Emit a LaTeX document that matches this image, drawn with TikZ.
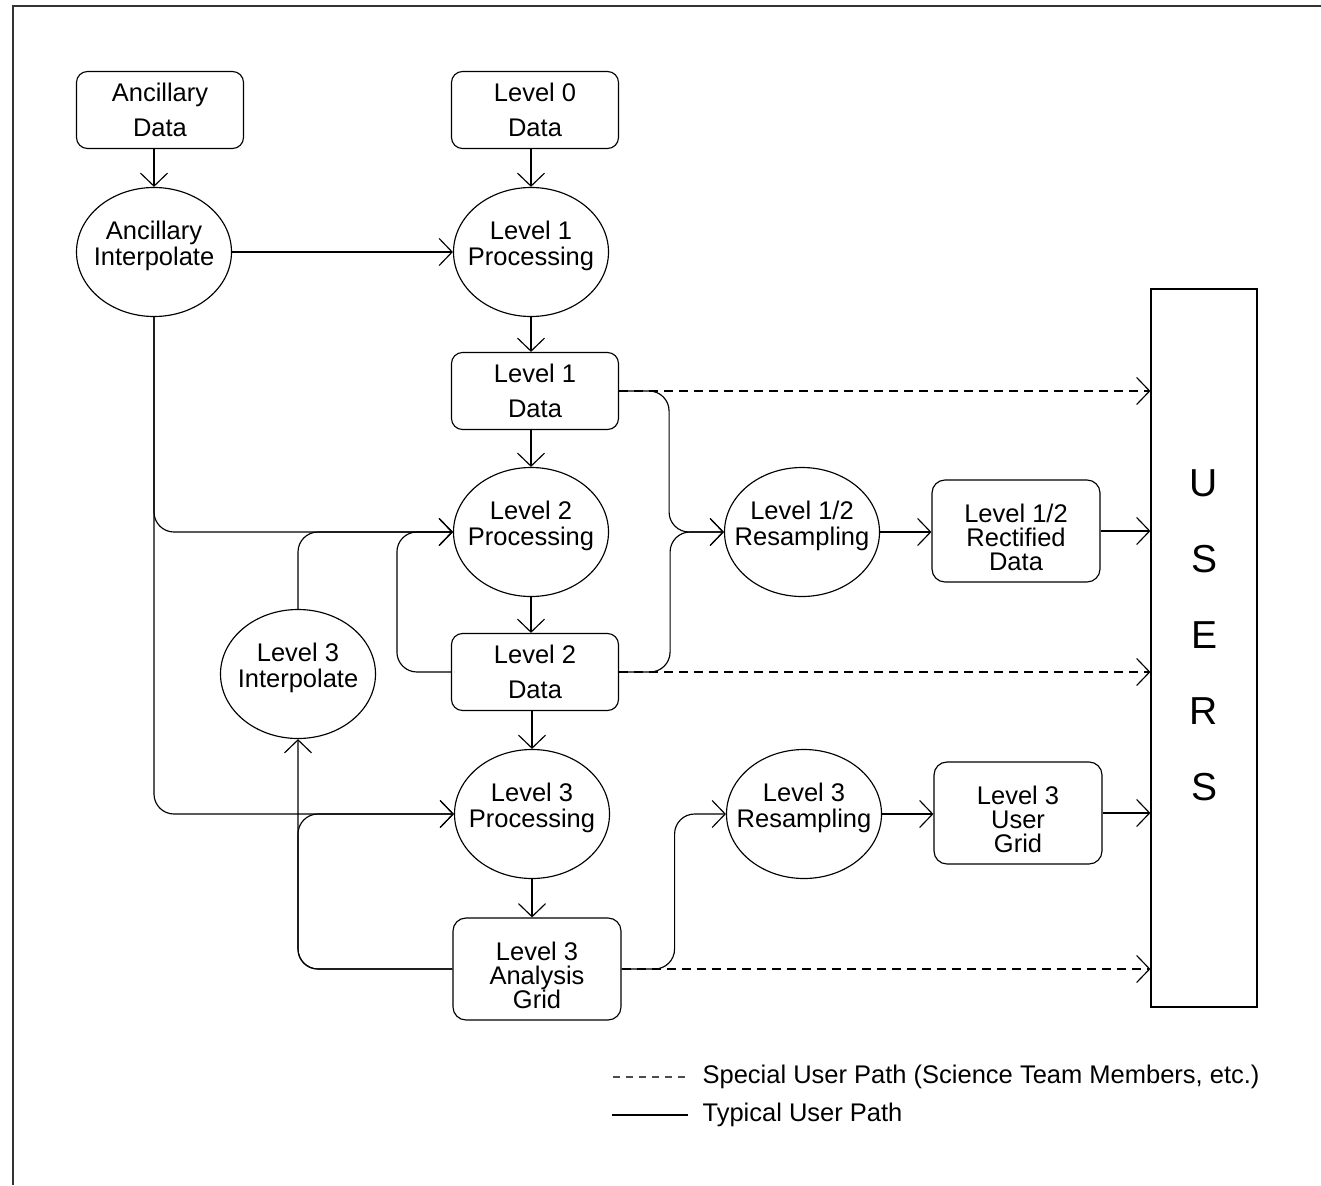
\documentclass[tikz,border=0pt]{standalone}
\usepackage{fontspec}
\setmainfont{Liberation Sans}
\usetikzlibrary{arrows.meta,shapes.geometric}

\begin{document}
\begin{tikzpicture}[x=1pt,y=-1pt,line width=1.15pt,
  databox/.style={draw,rounded corners=11pt,minimum width=167pt,minimum height=77pt,
    inner sep=0pt,align=center,font=\fontsize{25.5}{35}\selectfont},
  gridbox/.style={draw,rounded corners=13pt,minimum width=168pt,minimum height=102pt,
    inner sep=0pt,align=center,text height=78.6pt,text depth=0pt,
    font=\fontsize{25.5}{24}\selectfont},
  procbubble/.style={draw,ellipse,minimum width=155pt,minimum height=129pt,
    inner ysep=0pt,inner xsep=-14pt,align=center,text depth=18pt,
    font=\fontsize{25.5}{26}\selectfont},
  usersbox/.style={draw,minimum width=106pt,minimum height=718pt,inner sep=0pt,
    align=center,text depth=26pt,font=\fontsize{39}{76}\selectfont},
  flow/.style={-{Straight Barb[length=13pt,width=27pt]},rounded corners=20pt},
  special/.style={flow,dash pattern=on 9pt off 6pt},
  legtext/.style={anchor=west,inner sep=0pt,font=\fontsize{25.5}{30}\selectfont},
]
\useasboundingbox (0,0) rectangle (1321,1185);
% page frame (cut off at right and bottom)
\draw[black!80,line width=1.5pt] (13,1185) -- (13,6) -- (1321,6);

% inputs
\node[databox] (ancdata) at (160,110) {Ancillary\\Data};
\node[databox] (lzero) at (535,110) {Level 0\\Data};

% main chain
\node[procbubble] (ancinterp) at (154,252) {Ancillary\\Interpolate};
\node[procbubble] (lonepro) at (531,252) {Level 1\\Processing};
\node[databox] (lonedata) at (535,391) {Level 1\\Data};
\node[procbubble] (ltwopro) at (531,532) {Level 2\\Processing};
\node[databox] (ltwodata) at (535,672) {Level 2\\Data};
\node[procbubble] (lthreeint) at (298,674) {Level 3\\Interpolate};
\node[procbubble] (lthreepro) at (532,814) {Level 3\\Processing};
\node[gridbox] (lthreegrid) at (537,969) {Level 3\\Analysis\\Grid};

% resampling
\node[procbubble] (resampa) at (802,532) {Level 1/2\\Resampling};
\node[gridbox] (rectdata) at (1016,531) {Level 1/2\\Rectified\\Data};
\node[procbubble] (resampb) at (804,814) {Level 3\\Resampling};
\node[gridbox] (usergrid) at (1018,813) {Level 3\\User\\Grid};
\node[usersbox] (users) at (1204,648) {U\\S\\E\\R\\S};

% typical user path
\draw[flow] (ancinterp.north |- ancdata.south) -- (ancinterp.north);
\draw[flow] (lonepro.north |- lzero.south) -- (lonepro.north);
\draw[flow] (ancinterp.east) -- (lonepro.west);
\draw[flow] (lonepro.south) -- (lonepro.south |- lonedata.north);
\draw[flow] (ltwopro.north |- lonedata.south) -- (ltwopro.north);
\draw[flow] (ltwopro.south) -- (ltwopro.south |- ltwodata.north);
\draw[flow] (lthreepro.north |- ltwodata.south) -- (lthreepro.north);
\draw[flow] (lthreepro.south) -- (lthreepro.south |- lthreegrid.north);

\draw[flow] (ancinterp.south) |- (ltwopro.west);
\draw[flow] (ancinterp.south) |- (lthreepro.west);
\draw[flow] (lthreeint.north) |- (ltwopro.west);
\draw[flow] (ltwodata.west) -- ++(-54,0) |- (ltwopro.west);
\draw[flow] (lthreegrid.west) -| (lthreeint.south);
\draw[flow] (lthreegrid.west) -- (lthreegrid.west -| lthreeint.south) |- (lthreepro.west);

\draw[flow] (lonedata.east) -- ++(50,0) |- (resampa.west);
\draw[flow] (ltwodata.east) -- ++(51,0) |- (resampa.west);
\draw[flow] (resampa.east) -- (resampa.east -| rectdata.west);
\draw[flow] (rectdata.east) -- (users.west |- rectdata.east);

\draw[flow] (lthreegrid.east) -- ++(53,0) |- (resampb.west);
\draw[flow] (resampb.east) -- (resampb.east -| usergrid.west);
\draw[flow] (usergrid.east) -- (users.west |- usergrid.east);

% special user path
\draw[special] (lonedata.east) -- (users.west |- lonedata.east);
\draw[special] (ltwodata.east) -- (users.west |- ltwodata.east);
\draw[special] (lthreegrid.east) -- (users.west |- lthreegrid.east);

% legend
\node[legtext] (legspecial) at (702,1077) {Special User Path (Science Team Members, etc.)};
\node[legtext] (legtypical) at (702,1115) {Typical User Path};
\draw[black!70,dash pattern=on 7pt off 6pt] ([xshift=-17pt]legspecial.west) -- ++(-73,0);
\draw ([xshift=-14pt]legtypical.west) -- ++(-76,0);
\end{tikzpicture}
\end{document}
